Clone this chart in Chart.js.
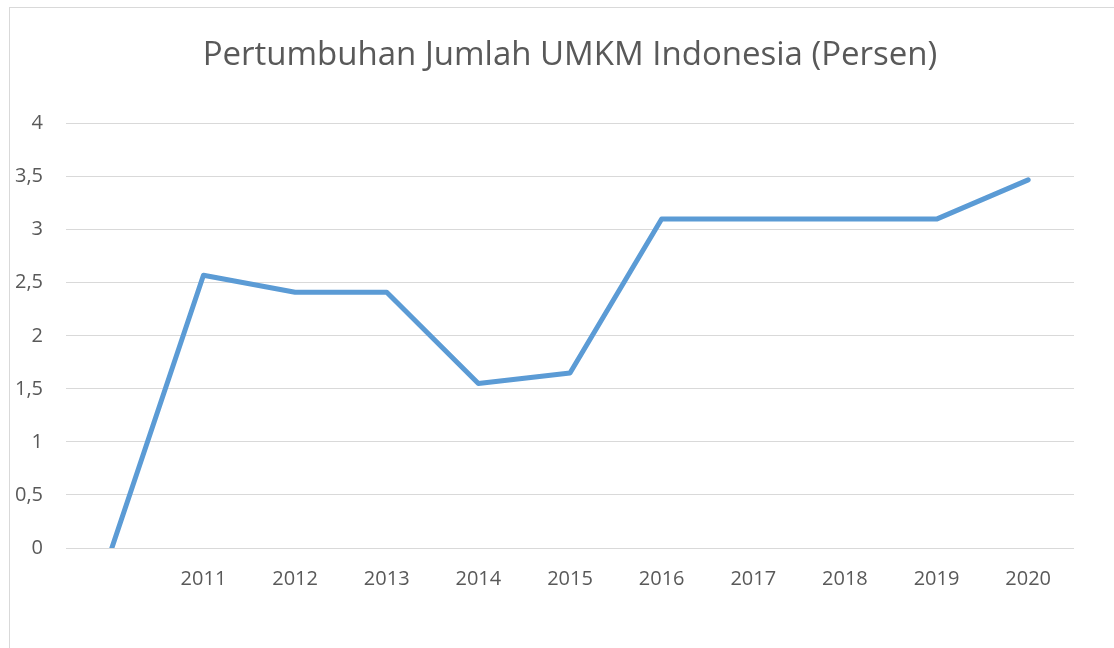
<!DOCTYPE html>
<html>
<head>
<meta charset="utf-8">
<script src="https://cdn.jsdelivr.net/npm/chart.js@4/dist/chart.umd.min.js"></script>
<style>
  html, body { margin: 0; padding: 0; background: #fff; overflow: hidden; }
  #frame { position: absolute; left: 9px; top: 7px; width: 1200px; height: 800px; border: 1px solid #d9d9d9; box-sizing: border-box; }
  #wrap { position: absolute; left: 0; top: 0; width: 1114px; height: 648px; }
</style>
</head>
<body>
<div id="frame"></div>
<div id="wrap"><canvas id="c" width="1114" height="648"></canvas></div>
<script>
const categories = ['', '2011', '2012', '2013', '2014', '2015', '2016', '2017', '2018', '2019', '2020'];
const growthValues = [0, 2.57, 2.41, 2.41, 1.55, 1.65, 3.1, 3.1, 3.1, 3.1, 3.47];
const yTicks = [0, 0.5, 1, 1.5, 2, 2.5, 3, 3.5, 4];
const titleText = 'Pertumbuhan Jumlah UMKM Indonesia (Persen)';

const FONT = '"Open Sans", sans-serif';
const TEXT = '#595959';

new Chart(document.getElementById('c'), {
  type: 'line',
  data: {
    labels: categories,
    datasets: [{
      data: growthValues,
      borderColor: '#5b9bd5',
      borderWidth: 5,
      pointRadius: 0,
      tension: 0,
      borderCapStyle: 'round',
      borderJoinStyle: 'round',
      fill: false
    }]
  },
  options: {
    responsive: false,
    animation: false,
    devicePixelRatio: 1,
    layout: { padding: { left: 0, right: 40, top: 0, bottom: 0 } },
    plugins: {
      legend: { display: false },
      tooltip: { enabled: false },
      title: {
        display: true,
        fullSize: false,
        text: titleText,
        color: TEXT,
        font: { family: FONT, size: 33, weight: 'normal', lineHeight: 1.2 },
        padding: { top: 36, bottom: 48 }
      }
    },
    scales: {
      x: {
        offset: true,
        grid: { display: false, drawTicks: false },
        border: { display: false },
        ticks: {
          color: TEXT,
          font: { family: FONT, size: 20 },
          padding: 19,
          maxRotation: 0,
          autoSkip: false
        },
        afterFit: (s) => { s.height = 100; }
      },
      y: {
        min: 0,
        max: 4,
        afterBuildTicks: (s) => { s.ticks = yTicks.map(v => ({ value: v })); },
        grid: { color: '#d9d9d9', lineWidth: 1, drawTicks: false },
        border: { display: false },
        ticks: {
          color: TEXT,
          font: { family: FONT, size: 20 },
          padding: 23,
          callback: (v) => String(v).replace('.', ',')
        },
        afterFit: (s) => { s.width = 66; }
      }
    }
  }
});
</script>
</body>
</html>
